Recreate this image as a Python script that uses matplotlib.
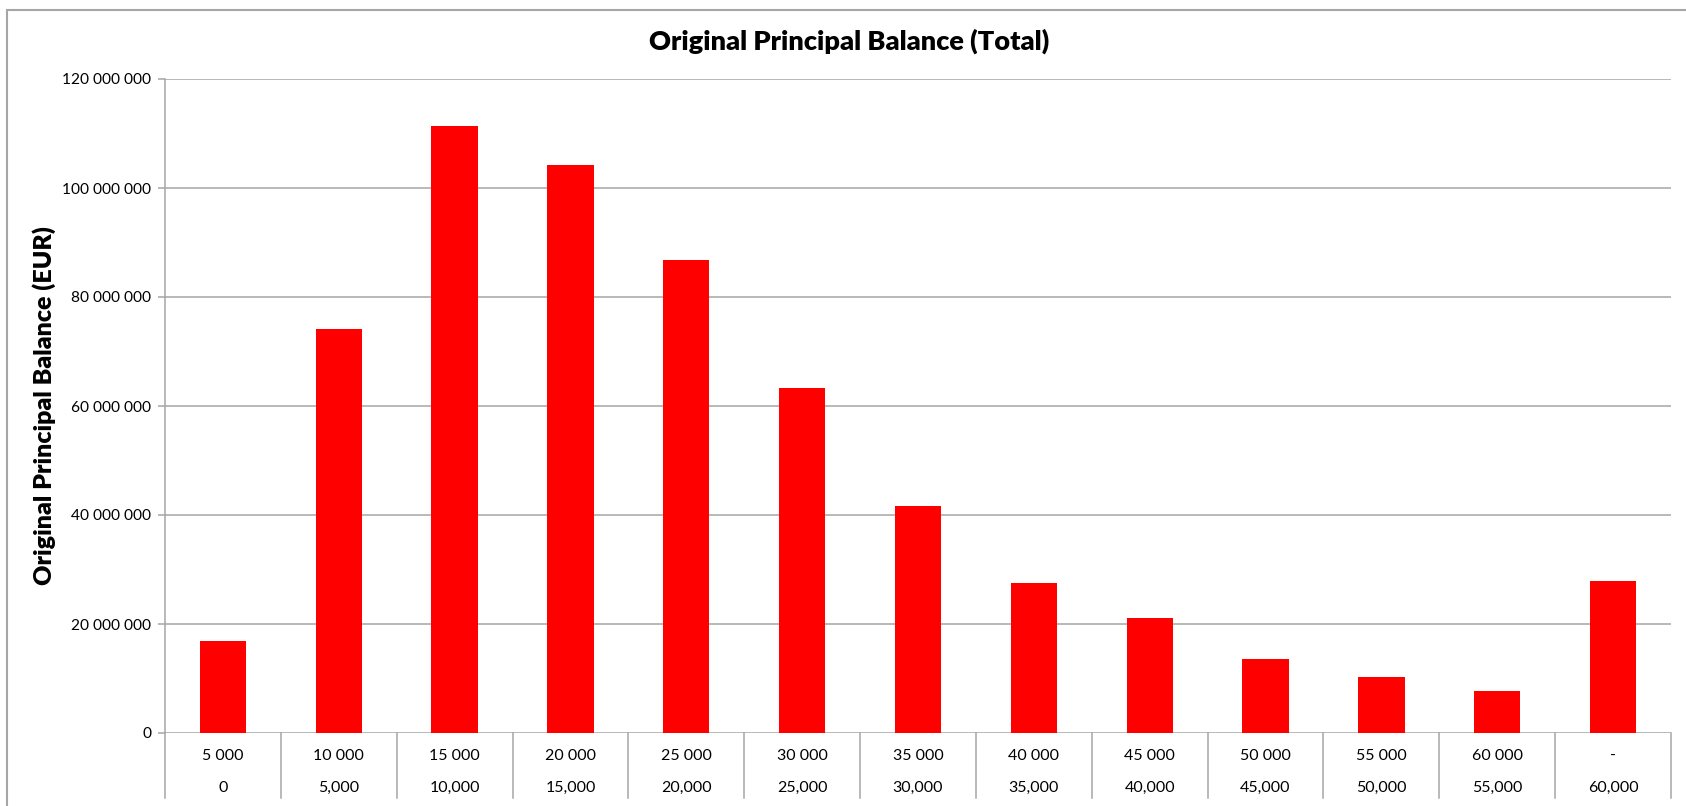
import matplotlib

matplotlib.use("Agg")
import matplotlib.pyplot as plt
from matplotlib.lines import Line2D
from matplotlib.patches import Rectangle
from matplotlib.ticker import FuncFormatter, MultipleLocator

plt.rcParams["font.family"] = ["Lato", "DejaVu Sans"]

# bucket upper / lower bounds and balance per bucket (EUR)
upper_labels = ["5 000", "10 000", "15 000", "20 000", "25 000", "30 000", "35 000",
                "40 000", "45 000", "50 000", "55 000", "60 000", "-"]
lower_labels = ["0", "5,000", "10,000", "15,000", "20,000", "25,000", "30,000",
                "35,000", "40,000", "45,000", "50,000", "55,000", "60,000"]
balance = [16.8e6, 74.1e6, 111.3e6, 104.2e6, 86.7e6, 63.3e6, 41.6e6,
           27.6e6, 21.1e6, 13.6e6, 10.2e6, 7.7e6, 27.8e6]

GRID = "#a6a6a6"
W, H = 1686, 806

fig = plt.figure(figsize=(W / 100, H / 100), dpi=100)
# chart frame (right and bottom edges fall outside the picture)
fig.patches.append(Rectangle((7 / W, -0.1), 1.1, 1 - 10 / H + 0.1, transform=fig.transFigure,
                             fill=False, edgecolor=GRID, linewidth=1.5))

left, right, bottom, top = 165 / W, 1671 / W, 73 / H, 727 / H
ax = fig.add_axes([left, bottom, right - left, top - bottom])

n = len(balance)
x = range(n)
ax.bar(x, balance, width=0.4, color="#ff0000", zorder=3)
ax.set_xlim(-0.5, n - 0.5)
ax.set_ylim(0, 120e6)
ax.yaxis.set_major_locator(MultipleLocator(20e6))
ax.yaxis.set_major_formatter(FuncFormatter(lambda v, _: f"{int(v):,}".replace(",", " ")))
ax.grid(axis="y", color=GRID, linewidth=1.1, zorder=0)
for s in ["top", "right", "bottom"]:
    ax.spines[s].set_visible(False)
ax.spines["left"].set_color(GRID)
ax.spines["left"].set_linewidth(1.1)
ax.tick_params(axis="y", length=5, color=GRID, width=1.1, labelsize=11.2, pad=5)
ax.set_xticks([])

fig.text(849 / W, 1 - 41 / H, "Original Principal Balance (Total)", fontsize=19.5,
         fontweight="heavy", ha="center", va="center")
ax.set_ylabel("Original Principal Balance (EUR)", fontsize=18, fontweight="heavy")
ax.yaxis.set_label_coords(-(165 - 56) / (W * (right - left)), 0.5)

# two-row category axis with separators below the plot
trans = ax.get_xaxis_transform()
ext = 65 / (H * (top - bottom))
for k in range(n + 1):
    ax.add_line(Line2D([k - 0.5, k - 0.5], [0, -ext], transform=trans, color=GRID,
                       linewidth=1.1, clip_on=False))
for i in range(n):
    ax.text(i, -23 / (H * (top - bottom)), upper_labels[i], transform=trans,
            ha="center", va="center", fontsize=11.5)
    ax.text(i, -55 / (H * (top - bottom)), lower_labels[i], transform=trans,
            ha="center", va="center", fontsize=11.5)

fig.savefig("out.png", dpi=100)
